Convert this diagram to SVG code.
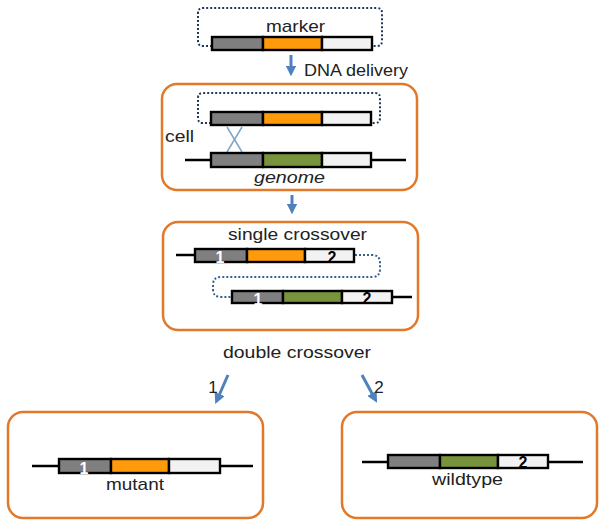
<svg xmlns="http://www.w3.org/2000/svg" width="606" height="530" viewBox="0 0 606 530">
<defs>
<style>
.box{fill:#fff;stroke:#E2792A;stroke-width:2.5}
.bar{stroke:#000;stroke-width:2.4}
.g{fill:#7F7F7F}.o{fill:#FF9A0A}.w{fill:#F2F2F2}.gr{fill:#77933C}
.line{stroke:#000;stroke-width:2.5;fill:none}
.dot{fill:none;stroke:#1F3A5C;stroke-width:2;stroke-dasharray:2 2}
.dotb{fill:none;stroke:#376092;stroke-width:2;stroke-dasharray:2 2}
.arr{stroke:#4F81BD;stroke-width:3;fill:none;marker-end:url(#ah)}
text{font-family:"Liberation Sans",Arial,sans-serif;font-size:17px;fill:#222}
.c{text-anchor:middle}
.n{font-size:16px;font-weight:bold;text-anchor:middle}
.nw{fill:#fff}.nb{fill:#000}
</style>
<marker id="ah" viewBox="0 0 10 10" refX="6" refY="5" markerWidth="3.6" markerHeight="3.6" orient="auto">
<path d="M0,0 L10,5 L0,10 z" fill="#4F81BD"/>
</marker>
</defs>

<g id="connectors">
<line class="arr" x1="291" y1="55" x2="291" y2="72"/>
<line class="arr" x1="292" y1="195" x2="292" y2="210"/>
<line class="arr" x1="228" y1="375" x2="217" y2="400"/>
<line class="arr" x1="362" y1="375" x2="375" y2="399"/>
</g>

<g id="marker">
<path class="dot" d="M212,46 L203,46 Q198,46 198,41 L198,13 Q198,8 203,8 L377,8 Q382,8 382,13 L382,41 Q382,46 377,46 L372,46"/>
<text x="266" y="32" textLength="59" lengthAdjust="spacingAndGlyphs">marker</text>
<rect class="g bar" x="212" y="37" width="51" height="13"/>
<rect class="o bar" x="263" y="37" width="59" height="13"/>
<rect class="w bar" x="322" y="37" width="50" height="13"/>
<text x="304" y="76" textLength="104" lengthAdjust="spacingAndGlyphs">DNA delivery</text>
</g>

<g id="cell">
<rect class="box" x="162" y="84" width="255" height="106" rx="15"/>
<path class="dot" d="M211,123 L203,123 Q198,123 198,118 L198,98 Q198,93 203,93 L375,93 Q380,93 380,98 L380,118 Q380,123 375,123 L371,123"/>
<line x1="227" y1="127" x2="242" y2="152" stroke="#7EA6C8" stroke-width="1.5"/>
<line x1="242" y1="127" x2="227" y2="152" stroke="#7EA6C8" stroke-width="1.5"/>
<rect class="g bar" x="211" y="112" width="52" height="13"/>
<rect class="o bar" x="263" y="112" width="59" height="13"/>
<rect class="w bar" x="322" y="112" width="49" height="13"/>
<line class="line" x1="185" y1="160" x2="406" y2="160"/>
<rect class="g bar" x="211" y="153" width="52" height="14"/>
<rect class="gr bar" x="263" y="153" width="59" height="14"/>
<rect class="w bar" x="322" y="153" width="49" height="14"/>
<text x="165" y="142" textLength="29" lengthAdjust="spacingAndGlyphs">cell</text>
<text x="254" y="183" font-style="italic" textLength="71" lengthAdjust="spacingAndGlyphs">genome</text>
</g>

<g id="single">
<rect class="box" x="163" y="222" width="255" height="108" rx="15"/>
<text x="228" y="240" textLength="139" lengthAdjust="spacingAndGlyphs">single crossover</text>
<line class="line" x1="176" y1="255" x2="195" y2="255"/>
<path class="dotb" d="M355,255 L372,255 Q380,255 380,263 L380,269 Q380,277 372,277 L221,277 Q213,277 213,285 L213,289 Q213,297 221,297 L232,297"/>
<rect class="g bar" x="195" y="249" width="52" height="13"/>
<rect class="o bar" x="247" y="249" width="58" height="13"/>
<rect class="w bar" x="305" y="249" width="49" height="13"/>
<text class="n nw" x="220" y="263">1</text>
<text class="n nb" x="332" y="263">2</text>
<line class="line" x1="392" y1="297" x2="412" y2="297"/>
<rect class="g bar" x="232" y="291" width="51" height="12"/>
<rect class="gr bar" x="283" y="291" width="59" height="12"/>
<rect class="w bar" x="342" y="291" width="50" height="12"/>
<text class="n nw" x="258" y="305">1</text>
<text class="n nb" x="367" y="304">2</text>
</g>

<g id="double">
<text x="223" y="358" font-size="18" textLength="148" lengthAdjust="spacingAndGlyphs">double crossover</text>
<text class="c" x="213" y="393" font-size="18">1</text>
<text class="c" x="379" y="393" font-size="18">2</text>
</g>

<g id="mutant">
<rect class="box" x="8" y="412" width="255" height="106" rx="15"/>
<line class="line" x1="32" y1="466" x2="253" y2="466"/>
<rect class="g bar" x="59" y="459" width="52" height="14"/>
<rect class="o bar" x="111" y="459" width="58" height="14"/>
<rect class="w bar" x="169" y="459" width="51" height="14"/>
<text class="n nw" x="84" y="474">1</text>
<text x="106" y="490" textLength="58" lengthAdjust="spacingAndGlyphs">mutant</text>
</g>

<g id="wildtype">
<rect class="box" x="342" y="412" width="255" height="106" rx="15"/>
<line class="line" x1="362" y1="462" x2="583" y2="462"/>
<rect class="g bar" x="388" y="455" width="52" height="13"/>
<rect class="gr bar" x="440" y="455" width="58" height="13"/>
<rect class="w bar" x="498" y="455" width="50" height="13"/>
<text class="n nb" x="523" y="468">2</text>
<text x="432" y="485" textLength="71" lengthAdjust="spacingAndGlyphs">wildtype</text>
</g>
</svg>
